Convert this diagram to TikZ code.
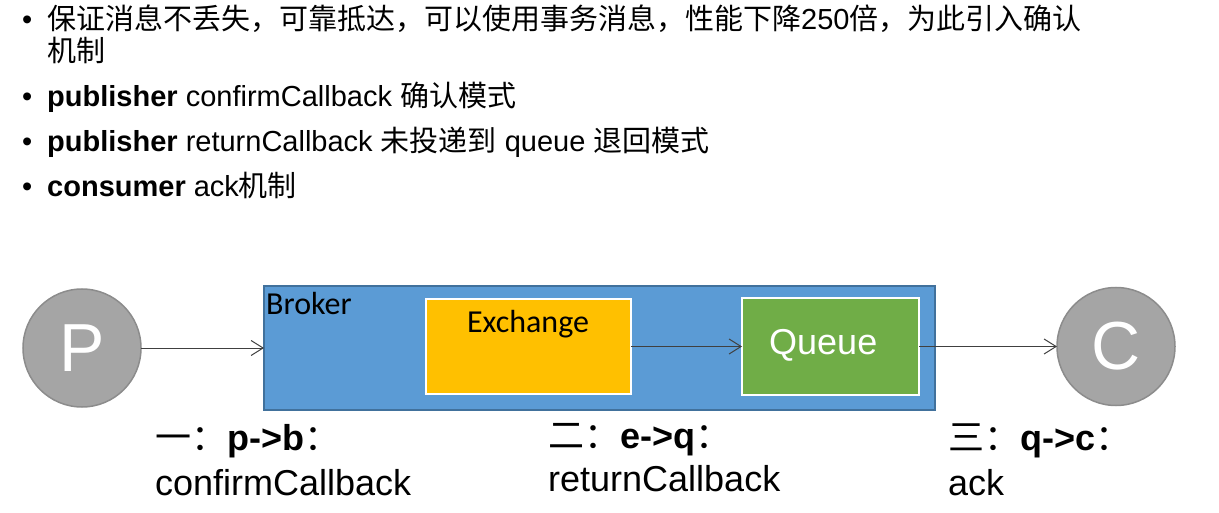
\documentclass[tikz,border=0pt]{standalone}
\usepackage{fontspec}
\setmainfont{Liberation Sans}
\newfontfamily\cjk{Noto Sans CJK SC}
\newfontfamily\calibri{Carlito}
\usetikzlibrary{arrows.meta,positioning}
\definecolor{brokerblue}{HTML}{5B9BD5}
\definecolor{brokeredge}{HTML}{41719C}
\definecolor{exchgold}{HTML}{FFC000}
\definecolor{queuegreen}{HTML}{70AD47}
\definecolor{peergray}{HTML}{A5A5A5}
\definecolor{peeredge}{HTML}{8C8C8C}
\definecolor{wire}{HTML}{404040}

\begin{document}
\begin{tikzpicture}[
  x=1pt, y=-1pt,
  dot/.style={anchor=base west, inner sep=0pt, font=\fontsize{29}{32}\selectfont},
  item/.style={anchor=base west, inner sep=0pt, font=\fontsize{29}{32}\selectfont},
  peer/.style={circle, draw=peeredge, line width=1.5pt, fill=peergray,
               minimum size=118pt, inner sep=0pt, outer sep=0pt,
               text=white, font=\fontsize{68}{68}\selectfont},
  brokerbox/.style={draw=brokeredge, line width=1.5pt, fill=brokerblue,
                    minimum width=671pt, minimum height=124pt, inner sep=0pt, outer sep=0pt},
  inbox/.style={draw=white, line width=2pt, inner sep=0pt, outer sep=0pt},
  boxtxt/.style={anchor=base west, inner sep=0pt, font=\calibri\fontsize{32}{32}\selectfont},
  stagetxt/.style={anchor=base west, inner sep=0pt, font=\fontsize{36}{40}\selectfont},
  arr/.style={-{Straight Barb[length=12pt, width=15pt]}, line width=1pt, draw=wire}
]
  \useasboundingbox (0,0) rectangle (1219,513);

  % bullet list
  \node[dot] (d1) at (22,30) {•};
  \node[dot] (d2) at (22,107) {•};
  \node[dot] (d3) at (22,152) {•};
  \node[dot] (d4) at (22,197) {•};
  \node[item] (t1) at (47,30) {{\cjk 保证消息不丢失，可靠抵达，可以使用事务消息，性能下降}250{\cjk 倍，为此引入确认}};
  \node[item] (t1b) at (47,62) {{\cjk 机制}};
  \node[item] (t2) at (47,107) {\textbf{publisher} confirmCallback {\cjk 确认模式}};
  \node[item] (t3) at (47,152) {\textbf{publisher} returnCallback {\cjk 未投递到} queue {\cjk 退回模式}};
  \node[item] (t4) at (47,197) {\textbf{consumer} ack{\cjk 机制}};

  % flow
  \node[peer] (P) at (82,348) {P};
  \node[brokerbox, right=123pt of P] (broker) {};
  \node[boxtxt] (brokerlbl) at (266,315) {Broker};
  \node[inbox, fill=exchgold, minimum width=205pt, minimum height=95pt] (exch) at (528.5,346.5) {};
  \node[boxtxt, anchor=base] (exchlbl) at (528,332) {Exchange};
  \node[inbox, fill=queuegreen, minimum width=177pt, minimum height=97pt, right=111pt of exch] (queue) {};
  \node[anchor=base west, inner sep=0pt, text=white, font=\fontsize{36}{36}\selectfont] (queuelbl) at (769,354) {Queue};
  \node[peer, right=138pt of queue] (C) {C};

  \draw[arr] (P) -- (broker);
  \draw[arr] (exch) -- (queue);
  \draw[arr] (queue) -- (C);

  % stages
  \node[stagetxt] (s1) at (155,450) {{\cjk 一：}\textbf{p->b}{\cjk ：}};
  \node[stagetxt] (s1b) at (155,495) {confirmCallback};
  \node[stagetxt] (s2) at (548,448) {{\cjk 二：}\textbf{e->q}{\cjk ：}};
  \node[stagetxt] (s2b) at (548,491) {returnCallback};
  \node[stagetxt] (s3) at (948,450) {{\cjk 三：}\textbf{q->c}{\cjk ：}};
  \node[stagetxt] (s3b) at (948,495) {ack};
\end{tikzpicture}
\end{document}
